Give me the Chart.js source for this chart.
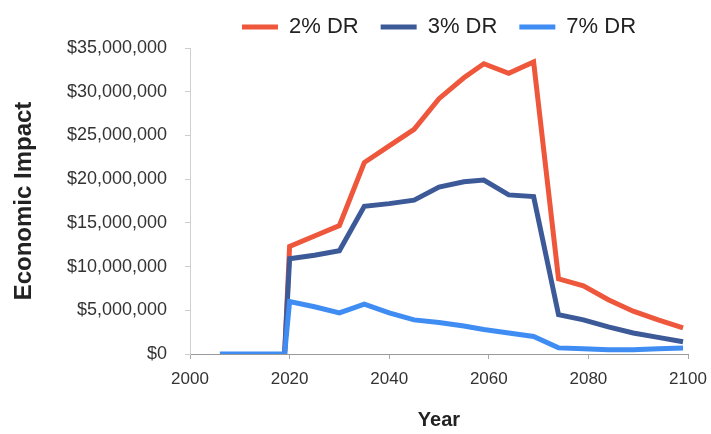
<!DOCTYPE html>
<html>
<head>
<meta charset="utf-8">
<script src="https://cdn.jsdelivr.net/npm/chart.js@4"></script>
<style>
  html, body { margin: 0; padding: 0; background: #fff; }
  #wrap { width: 711px; height: 434px; }
</style>
</head>
<body>
<div id="wrap"><canvas id="impact-chart"></canvas></div>
<script>
// years
const years = [2006, 2019, 2020, 2025, 2030, 2035, 2040, 2045, 2050, 2055, 2059, 2064, 2069, 2074, 2079, 2084, 2089, 2094, 2099];

// economic impact in $ millions
const dr2 = [null, 0, 12.3, 13.5, 14.7, 21.9, 23.8, 25.7, 29.2, 31.6, 33.2, 32.1, 33.4, 8.6, 7.8, 6.2, 4.9, 3.9, 3.0];
const dr3 = [null, 0, 10.9, 11.3, 11.8, 16.9, 17.2, 17.6, 19.1, 19.7, 19.9, 18.2, 18.0, 4.5, 3.9, 3.1, 2.4, 1.9, 1.4];
const dr7 = [0, 0, 6.0, 5.4, 4.7, 5.7, 4.7, 3.9, 3.6, 3.2, 2.8, 2.4, 2.0, 0.7, 0.6, 0.5, 0.5, 0.6, 0.7];

const seriesNames = ["2% DR", "3% DR", "7% DR"];
const xTicks = { min: 2000, max: 2100, step: 20 };
const yTicks = { min: 0, max: 35000000, step: 5000000 };

function points(values) {
    return years.map((yr, i) => ({ x: yr, y: values[i] === null ? null : values[i] * 1000000 }));
}

function lineSet(label, values, color, order) {
    return {
        label: label,
        data: points(values),
        borderColor: color,
        backgroundColor: color,
        borderWidth: 5,
        pointRadius: 0,
        pointStyle: 'line',
        tension: 0,
        order: order
    };
}

const font = 'Liberation Sans, Arial, sans-serif';

new Chart(document.getElementById("impact-chart"), {
    type: 'line',
    data: {
        datasets: [
            lineSet(seriesNames[0], dr2, "#ee573b", 3),
            lineSet(seriesNames[1], dr3, "#3d5a98", 2),
            lineSet(seriesNames[2], dr7, "#3f8cf3", 1)
        ]
    },
    options: {
        responsive: true,
        maintainAspectRatio: false,
        animation: false,
        layout: { padding: { top: -6, right: 23, bottom: 0, left: 0 } },
        plugins: {
            tooltip: { enabled: false },
            legend: {
                position: 'top',
                fullSize: false,
                align: 'center',
                labels: {
                    usePointStyle: true,
                    pointStyleWidth: 36,
                    padding: 22,
                    color: '#222',
                    font: { family: font, size: 22 },
                    sort: (a, b) => a.datasetIndex - b.datasetIndex
                }
            }
        },
        scales: {
            x: {
                type: 'linear',
                min: xTicks.min,
                max: xTicks.max,
                afterFit: (s) => { s.height = 80; s.paddingLeft = 0; s.paddingRight = 0; },
                ticks: {
                    stepSize: xTicks.step,
                    padding: 10,
                    color: '#333',
                    font: { family: font, size: 17 },
                    callback: (v) => String(v)
                },
                grid: { drawOnChartArea: false, tickLength: 5, color: '#aaa' },
                border: { color: '#999' },
                title: {
                    display: true,
                    text: 'Year',
                    color: '#222',
                    padding: { top: 0, bottom: 2 },
                    font: { family: font, size: 20, weight: 'bold' }
                }
            },
            y: {
                min: yTicks.min,
                max: yTicks.max,
                afterFit: (s) => { s.width = 190; },
                ticks: {
                    stepSize: yTicks.step,
                    padding: 18,
                    color: '#333',
                    font: { family: font, size: 18 },
                    callback: (v) => '$' + v.toLocaleString('en-US')
                },
                grid: { drawOnChartArea: false, tickLength: 5, color: '#ccc' },
                border: { color: '#d0d0d0' },
                title: {
                    display: true,
                    text: 'Economic Impact',
                    color: '#222',
                    padding: { top: 10, bottom: 0 },
                    font: { family: font, size: 24, weight: 'bold' }
                }
            }
        }
    }
});
</script>
</body>
</html>
